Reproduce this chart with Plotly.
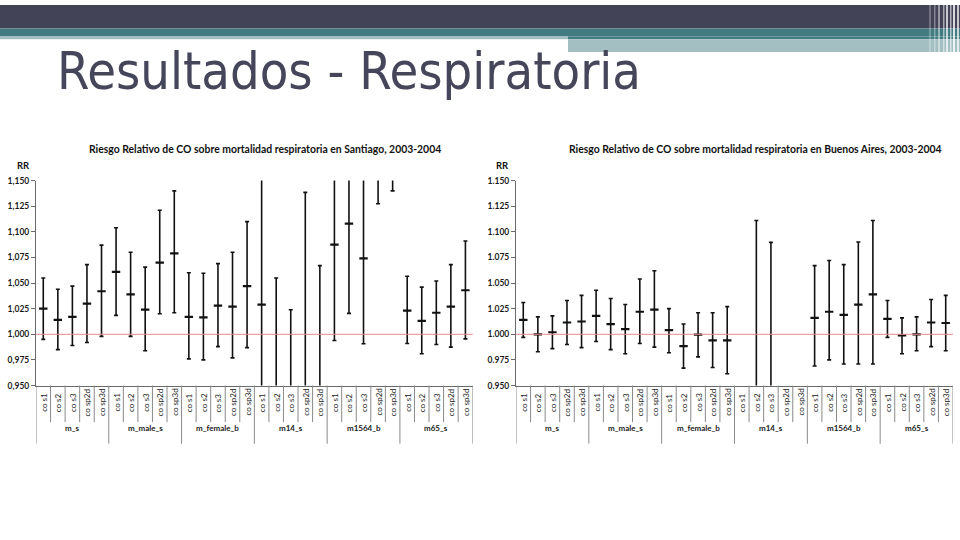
import plotly.graph_objects as go

W, H = 960, 540

groups = ["m_s", "m_male_s", "m_female_b", "m14_s", "m1564_b", "m65_s"]
series = ["co s1", "co s2", "co s3", "co sp2d", "co sp3d"]

y_ticks = [0.95, 0.975, 1.0, 1.025, 1.05, 1.075, 1.1, 1.125, 1.15]
stgo_ticktext = ["0,950", "0,975", "1,000", "1,025", "1,050", "1,075", "1,100", "1,125", "1,150"]
ba_ticktext = ["0.950", "0.975", "1.000", "1.025", "1.050", "1.075", "1.100", "1.125", "1.150"]

stgo_title = "Riesgo Relativo de CO sobre mortalidad respiratoria en Santiago, 2003-2004"
ba_title = "Riesgo Relativo de CO sobre mortalidad respiratoria en Buenos Aires, 2003-2004"

# Santiago: point estimate, lower, upper
stgo_rr = [1.025, 1.014, 1.017, 1.030, 1.042,
           1.061, 1.039, 1.024, 1.070, 1.079,
           1.017, 1.0166, 1.028, 1.027, 1.047,
           1.029, 0.93, 0.90, 0.94, 0.91,
           1.0875, 1.108, 1.074, 1.20, 1.25,
           1.023, 1.013, 1.021, 1.027, 1.043]
stgo_lo = [0.995, 0.985, 0.989, 0.992, 0.998,
           1.0185, 0.998, 0.984, 1.020, 1.021,
           0.976, 0.975, 0.988, 0.977, 0.987,
           0.80, 0.82, 0.79, 0.78, 0.78,
           0.994, 1.0204, 0.9907, 1.1274, 1.140,
           0.991, 0.981, 0.990, 0.9875, 0.9955]
stgo_hi = [1.055, 1.044, 1.047, 1.068, 1.087,
           1.104, 1.080, 1.0655, 1.121, 1.140,
           1.060, 1.0595, 1.069, 1.080, 1.110,
           1.32, 1.055, 1.024, 1.1385, 1.067,
           1.19, 1.20, 1.16, 1.28, 1.37,
           1.0566, 1.046, 1.052, 1.068, 1.091]

# Buenos Aires
ba_rr = [1.014, 1.000, 1.002, 1.0115, 1.0125,
         1.018, 1.010, 1.005, 1.022, 1.024,
         1.004, 0.9885, 0.9997, 0.994, 0.994,
         None, 0.94, 0.93, None, None,
         1.016, 1.022, 1.019, 1.029, 1.039,
         1.015, 0.999, 1.000, 1.0115, 1.011]
ba_lo = [0.997, 0.983, 0.986, 0.990, 0.987,
         0.993, 0.985, 0.981, 0.991, 0.9875,
         0.982, 0.967, 0.978, 0.9676, 0.9615,
         None, 0.80, 0.79, None, None,
         0.969, 0.975, 0.971, 0.971, 0.971,
         0.997, 0.981, 0.984, 0.988, 0.984]
ba_hi = [1.031, 1.017, 1.018, 1.033, 1.038,
         1.043, 1.035, 1.029, 1.054, 1.062,
         1.025, 1.010, 1.021, 1.021, 1.027,
         None, 1.111, 1.0897, None, None,
         1.067, 1.072, 1.068, 1.090, 1.111,
         1.033, 1.016, 1.017, 1.034, 1.038]


def px(x):
    return x / W


def py(y):
    return 1 - y / H


categories = [s for g in groups for s in series]
xs = list(range(len(categories)))

fig = go.Figure()

panels = [
    dict(rr=stgo_rr, lo=stgo_lo, hi=stgo_hi, tt=stgo_ticktext, title=stgo_title,
         xa="x", ya="y", dom=(36, 472.7), title_x=265, rr_x=23, suffix=""),
    dict(rr=ba_rr, lo=ba_lo, hi=ba_hi, tt=ba_ticktext, title=ba_title,
         xa="x2", ya="y2", dom=(516, 953), title_x=755, rr_x=502, suffix="2"),
]

y_top, y_bot = 178.9, 387.7
font_fam = "Lato, 'Open Sans', sans-serif"

shapes = []
annotations = []

for p in panels:
    plus = [(h - r) if (h is not None and r is not None) else None for r, h in zip(p["rr"], p["hi"])]
    minus = [(r - l) if (l is not None and r is not None) else None for r, l in zip(p["rr"], p["lo"])]
    fig.add_trace(go.Scatter(
        x=xs, y=p["rr"], mode="markers", xaxis=p["xa"], yaxis=p["ya"],
        marker=dict(symbol="line-ew", size=6, line=dict(width=2.2, color="#111")),
        error_y=dict(type="data", symmetric=False, array=plus, arrayminus=minus,
                     color="#111", thickness=1.6, width=2),
        showlegend=False, hoverinfo="skip", cliponaxis=True,
    ))
    ax = dict(domain=[px(p["dom"][0]), px(p["dom"][1])], range=[-0.5, len(xs) - 0.5],
              showgrid=False, zeroline=False, showline=True, linecolor="#6a6a6a",
              linewidth=1, showticklabels=False, ticks="", anchor=p["ya"])
    ay = dict(domain=[py(y_bot), py(y_top)], range=[0.95, 1.15], showgrid=False,
              zeroline=False, showline=True, linecolor="#6a6a6a", linewidth=1,
              tickvals=y_ticks, ticktext=p["tt"], ticks="outside", ticklen=4,
              tickcolor="#6a6a6a", tickfont=dict(family=font_fam, size=8.5, color="#1a1a1a", weight="bold"),
              anchor=p["xa"])
    fig.layout["xaxis" + p["suffix"]] = ax
    fig.layout["yaxis" + p["suffix"]] = ay

    # reference line at RR = 1
    shapes.append(dict(type="line", xref=p["xa"] + " domain", x0=0, x1=1,
                       yref=p["ya"], y0=1.0, y1=1.0, line=dict(color="#e8898a", width=1)))
    # category dividers
    for k in range(len(xs) + 1):
        is_group = (k % len(series) == 0)
        shapes.append(dict(type="line", xref=p["xa"], x0=k - 0.5, x1=k - 0.5,
                           yref="paper", y0=py(y_bot), y1=py(447 if is_group else 425),
                           line=dict(color="#8a8a8a", width=1)))
    for i, c in enumerate(categories):
        annotations.append(dict(x=i, xref=p["xa"], y=py(405), yref="paper", text=c,
                                textangle=-90, showarrow=False, xanchor="center", yanchor="middle",
                                font=dict(family=font_fam, size=8, color="#222")))
    for gi, g in enumerate(groups):
        annotations.append(dict(x=gi * len(series) + (len(series) - 1) / 2, xref=p["xa"],
                                y=py(438), yref="paper", text=g, showarrow=False,
                                font=dict(family=font_fam, size=8, color="#1a1a1a", weight="bold")))
    annotations.append(dict(x=px(p["title_x"]), xref="paper", y=py(147), yref="paper",
                            text=p["title"], showarrow=False, xanchor="center", yanchor="middle",
                            font=dict(family=font_fam, size=10.4, color="#111", weight="bold")))
    annotations.append(dict(x=px(p["rr_x"]), xref="paper", y=py(164), yref="paper",
                            text="RR", showarrow=False, xanchor="center", yanchor="middle",
                            font=dict(family=font_fam, size=9.5, color="#111", weight="bold")))

# slide header
dark = "#434358"
teal = "#427c80"
light = "#a3bfc2"
shapes += [
    dict(type="rect", xref="paper", yref="paper", x0=0, x1=1, y0=py(24), y1=1,
         fillcolor=dark, line=dict(width=0), layer="below"),
    dict(type="rect", xref="paper", yref="paper", x0=0, x1=1, y0=py(32), y1=py(24),
         fillcolor=teal, line=dict(width=0), layer="below"),
    dict(type="rect", xref="paper", yref="paper", x0=px(568), x1=1, y0=py(35), y1=py(32),
         fillcolor=teal, line=dict(width=0), layer="below"),
    dict(type="rect", xref="paper", yref="paper", x0=0, x1=px(568), y0=py(35), y1=py(32),
         fillcolor=light, line=dict(width=0), layer="below"),
    dict(type="rect", xref="paper", yref="paper", x0=px(568), x1=1, y0=py(48), y1=py(35),
         fillcolor=light, line=dict(width=0), layer="below"),
]
for x0, wdt, op in [(929, 2, 0.25), (934, 1.5, 0.35), (938, 2, 0.45), (943, 1.5, 0.55),
                    (946, 2, 0.7), (950, 1.5, 0.6), (953, 2, 0.8), (957, 2, 0.7)]:
    shapes.append(dict(type="rect", xref="paper", yref="paper", x0=px(x0), x1=px(x0 + wdt),
                       y0=py(49), y1=1, fillcolor="white", opacity=op, line=dict(width=0),
                       layer="below"))

annotations.append(dict(x=px(55), xref="paper", y=py(67), yref="paper",
                        text="Resultados - Respiratoria", showarrow=False,
                        xanchor="left", yanchor="middle",
                        font=dict(family="'DejaVu Sans Condensed', 'Liberation Sans Narrow', sans-serif",
                                  size=52, color="#46465a")))

fig.update_layout(width=W, height=H, margin=dict(l=0, r=0, t=0, b=0),
                  paper_bgcolor="white", plot_bgcolor="rgba(0,0,0,0)",
                  shapes=shapes, annotations=annotations)

fig.write_html("out.html", config={"displayModeBar": False, "staticPlot": True},
               post_script="document.body.style.margin='0';document.body.style.padding='0';"
                           "document.documentElement.style.margin='0';")
